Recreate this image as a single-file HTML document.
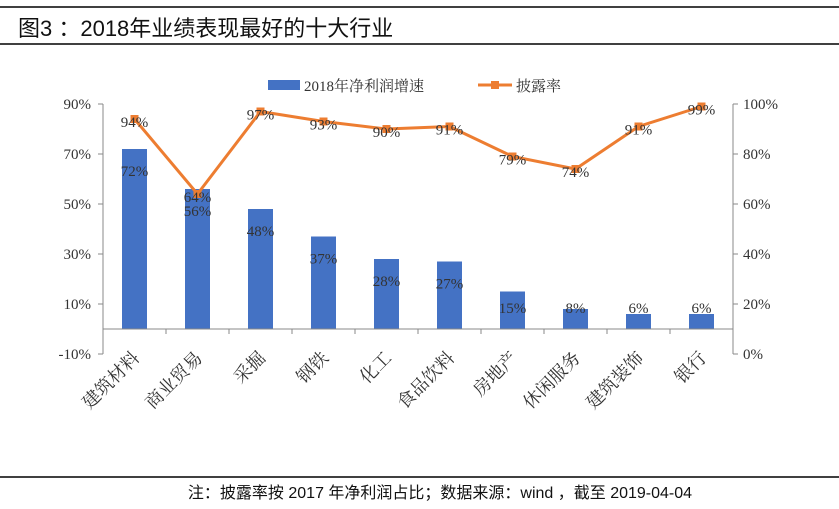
<!DOCTYPE html>
<html><head><meta charset="utf-8"><style>
body{margin:0;background:#fff;}
svg text{font-family:"Liberation Serif","Noto Serif CJK SC",serif;}
</style></head><body>
<svg width="839" height="504" viewBox="0 0 839 504">
<line x1="0" y1="7" x2="839" y2="7" stroke="#000" stroke-width="1.5"/>
<text x="18" y="36" font-size="22" style="font-family:'Liberation Sans','Noto Sans CJK SC',sans-serif" fill="#111">图3 ：2018年业绩表现最好的十大行业</text>
<line x1="0" y1="44" x2="839" y2="44" stroke="#000" stroke-width="1.5"/>
<line x1="0" y1="477" x2="839" y2="477" stroke="#000" stroke-width="1.5"/>
<text x="440" y="498" font-size="16" text-anchor="middle" style="font-family:'Liberation Sans','Noto Sans CJK SC',sans-serif" fill="#111">注：披露率按 2017 年净利润占比；数据来源：wind ，截至 2019-04-04</text>
<g>
<rect x="268" y="80" width="32" height="10" fill="#4472C4"/>
<text x="304" y="91" font-size="15" fill="#333">2018年净利润增速</text>
<line x1="478" y1="85" x2="512" y2="85" stroke="#ED7D31" stroke-width="3"/>
<rect x="491" y="81" width="8" height="8" fill="#ED7D31"/>
<text x="516" y="91" font-size="15" fill="#333">披露率</text>
</g>
<g id="plot"></g>
</svg>
<script>
const categories=["建筑材料","商业贸易","采掘","钢铁","化工","食品饮料","房地产","休闲服务","建筑装饰","银行"];
const growth=[72,56,48,37,28,27,15,8,6,6];
const disclosure=[94,64,97,93,90,91,79,74,91,99];
const leftTicks=[90,70,50,30,10,-10];
const rightTicks=[100,80,60,40,20,0];
const NS="http://www.w3.org/2000/svg";
const g=document.getElementById('plot');
const X0=103,X1=733,bw=(X1-X0)/categories.length;
const yL=v=>329-(v)*2.5;
const yR=v=>354-v*2.5;
const xc=i=>X0+bw*(i+0.5);
function mk(t,a,txt){const e=document.createElementNS(NS,t);for(const k in a)e.setAttribute(k,a[k]);if(txt!=null)e.textContent=txt;g.appendChild(e);return e;}
let e;
e=mk('line',{x1:X0,y1:104,x2:X0,y2:354,stroke:'#888'});


e=mk('line',{x1:X1,y1:104,x2:X1,y2:354,stroke:'#888'});


leftTicks.forEach(v=>{
 mk('line',{x1:X0-5,y1:yL(v),x2:X0,y2:yL(v),stroke:'#888'});
 e=mk('text',{x:X0-12,y:yL(v)+5,'font-size':15,'text-anchor':'end',fill:'#333'},v+'%');
 
 
});
rightTicks.forEach(v=>{
 mk('line',{x1:X1,y1:yR(v),x2:X1+5,y2:yR(v),stroke:'#888'});
 e=mk('text',{x:X1+10,y:yR(v)+5,'font-size':15,fill:'#333'},v+'%');
 
 
});
growth.forEach((v,i)=>{
 e=mk('rect',{x:xc(i)-12.5,y:yL(v),width:25,height:yL(0)-yL(v),fill:'#4472C4'});
 
 
});
e=mk('line',{x1:X0,y1:yL(0),x2:X1,y2:yL(0),stroke:'#888'});


categories.forEach((c,i)=>{
 mk('line',{x1:X0+bw*(i+1),y1:yL(0),x2:X0+bw*(i+1),y2:yL(0)+5,stroke:'#888'});
 const x=xc(i)+6,y=yL(0)+30;
 e=mk('text',{x:x,y:y,'font-size':18,'text-anchor':'end',fill:'#333',transform:`rotate(-45 ${x} ${y})`},c);
 
 
});
e=mk('polyline',{points:disclosure.map((v,i)=>xc(i)+','+yR(v)).join(' '),fill:'none',stroke:'#ED7D31','stroke-width':3});


disclosure.forEach((v,i)=>{
 e=mk('rect',{x:xc(i)-4,y:yR(v)-4,width:8,height:8,fill:'#ED7D31'});
 
 
});
growth.forEach((v,i)=>{
 e=mk('text',{x:xc(i),y:Math.min(yL(v)+27,313),'font-size':15,'text-anchor':'middle',fill:'#333'},v+'%');
 
 
});
disclosure.forEach((v,i)=>{
 e=mk('text',{x:xc(i),y:yR(v)+8,'font-size':15,'text-anchor':'middle',fill:'#333'},v+'%');
 
 
});
</script>
</body></html>
